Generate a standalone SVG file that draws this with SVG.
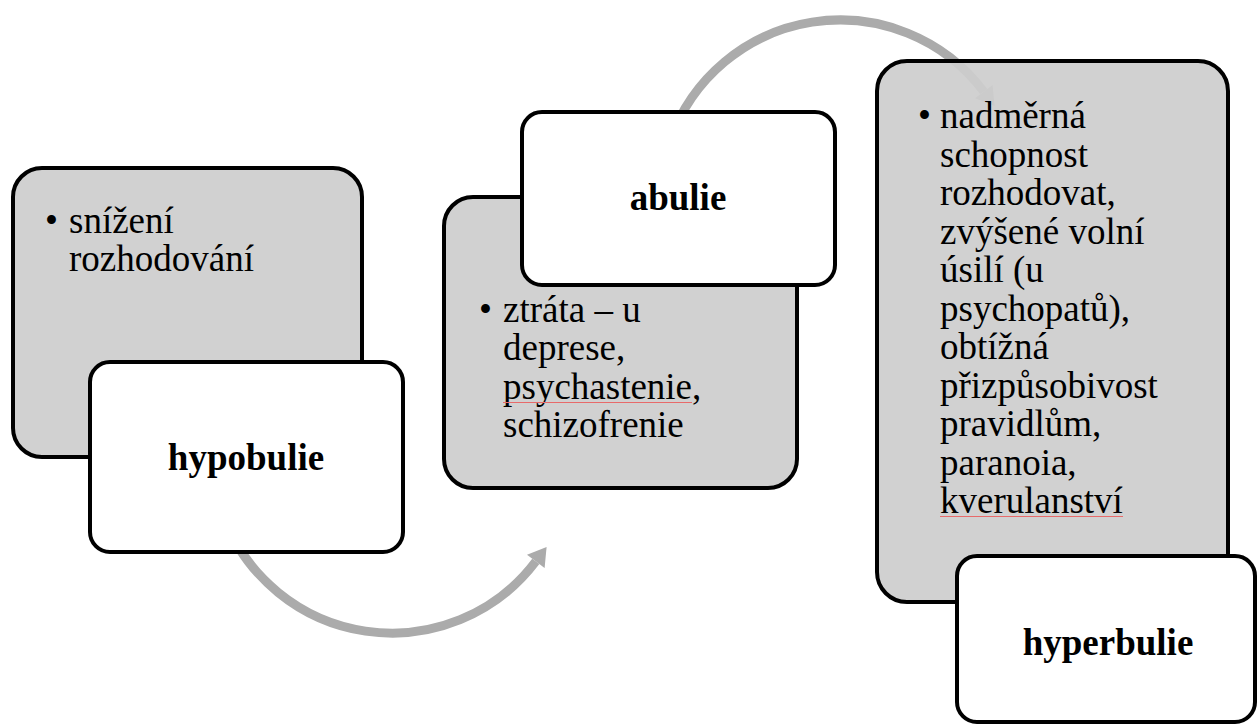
<svg xmlns="http://www.w3.org/2000/svg" width="1258" height="726" viewBox="0 0 1258 726">
<style>
.arc{fill:none;stroke:#ababab;stroke-width:9}
.head{fill:#ababab}
.grey{fill:#cdcdcd;fill-opacity:0.93;stroke:#000;stroke-width:4}
.white{fill:#fff;stroke:#000;stroke-width:4}
.t{font-family:"Liberation Serif","Times New Roman",serif;font-size:37px;fill:#000}
.b{font-family:"Liberation Serif","Times New Roman",serif;font-size:37px;font-weight:bold;fill:#000;text-anchor:middle}
.sp{stroke:#e86a6a;stroke-width:1;fill:none}
</style>
<rect width="1258" height="726" fill="#fff"/>
<g id="connectors">
<path class="arc" d="M222.9,514.6 A180,180 0 0 0 535.8,561.4"/>
<polygon class="head" points="546.6,547 544.6,568 527,554.8"/>
<path class="arc" d="M670,141 A180,180 0 0 1 983.8,91.6"/>
<polygon class="head" points="994.6,106 992.6,85 975,98.2"/>
</g>
<g id="node-hypobulie">
<rect class="grey" x="13" y="168" width="349" height="289" rx="29"/>
<text class="t" x="45" y="233">•</text>
<text class="t" x="69" y="233">snížení</text>
<text class="t" x="69" y="271">rozhodování</text>
<rect class="white" x="90" y="362" width="313" height="190" rx="20"/>
<text class="b" x="246" y="470">hypobulie</text>
</g>
<g id="node-abulie">
<rect class="grey" x="444" y="197" width="353" height="291" rx="29"/>
<text class="t" x="479" y="322">•</text>
<text class="t" x="503" y="322">ztráta – u</text>
<text class="t" x="503" y="360">deprese,</text>
<text class="t" x="503" y="399">psychastenie,</text>
<line class="sp" x1="503" y1="402.5" x2="692" y2="402.5"/>
<text class="t" x="503" y="437">schizofrenie</text>
<rect class="white" x="522" y="112" width="313" height="173" rx="20"/>
<text class="b" x="678" y="210">abulie</text>
</g>
<g id="node-hyperbulie">
<rect class="grey" x="877" y="61" width="351" height="541" rx="30"/>
<text class="t" x="918" y="128">•</text>
<g class="t">
<text x="940" y="128">nadměrná</text>
<text x="940" y="166.5">schopnost</text>
<text x="940" y="205">rozhodovat,</text>
<text x="940" y="243.5">zvýšené volní</text>
<text x="940" y="282">úsilí (u</text>
<text x="940" y="320.5">psychopatů),</text>
<text x="940" y="359">obtížná</text>
<text x="940" y="397.5">přizpůsobivost</text>
<text x="940" y="436">pravidlům,</text>
<text x="940" y="474.5">paranoia,</text>
<text x="940" y="513">kverulanství</text>
</g>
<line class="sp" x1="940" y1="516.5" x2="1123" y2="516.5"/>
<rect class="white" x="957" y="556" width="298" height="166" rx="20"/>
<text class="b" x="1108" y="655">hyperbulie</text>
</g>
</svg>
